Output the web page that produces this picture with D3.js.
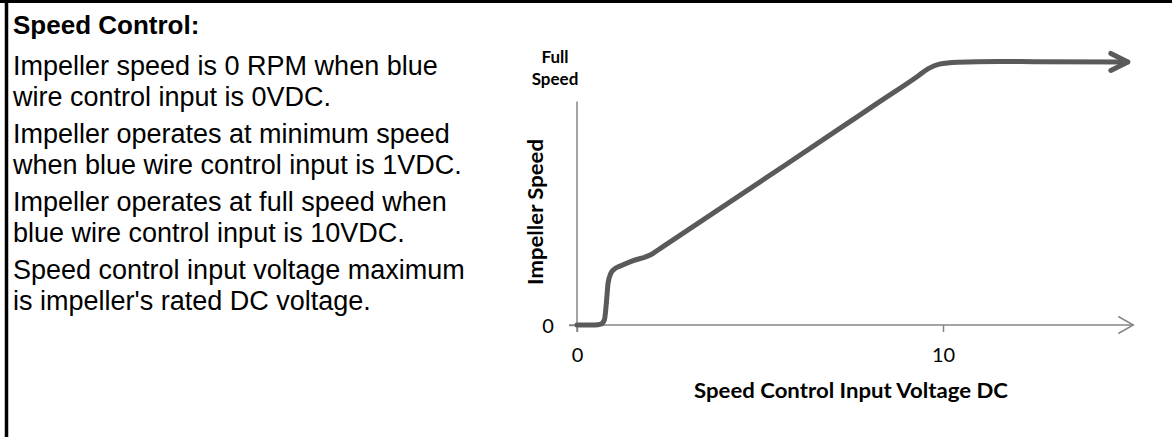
<!DOCTYPE html>
<html>
<head>
<meta charset="utf-8">
<script src="https://cdn.jsdelivr.net/npm/d3@7"></script>
<style>
  html, body { margin: 0; padding: 0; background: #fff; }
  svg { display: block; }
</style>
</head>
<body>
<svg id="chart" width="1172" height="437"></svg>
<script>
// ---- data ----
const titleText = "Speed Control:";
const paragraphs = [
  ["Impeller speed is 0 RPM when blue", "wire control input is 0VDC."],
  ["Impeller operates at minimum speed", "when blue wire control input is 1VDC."],
  ["Impeller operates at full speed when", "blue wire control input is 10VDC."],
  ["Speed control input voltage maximum", "is impeller's rated DC voltage."]
];
const voltage = [0, 0.5, 0.65, 0.75, 0.8, 0.85, 0.92, 1.0, 1.2, 1.5, 2.0, 2.35, 7.1, 8.28, 9.3, 9.6, 9.9, 10.4, 11.5, 12.5, 15.05];
const speed   = [0, 0, 0.3, 2, 8, 16, 19.5, 21, 22.5, 24.3, 26.6, 29.8, 74.0, 85.0, 94.5, 97.5, 99.2, 99.9, 100.2, 100.1, 100];
const xTickValues = [0, 10];
const xTickLabels = ["0", "10"];
const yTickValues = [0];
const yTickLabels = ["0"];
const yTopLabel = ["Full", "Speed"];
const xAxisTitle = "Speed Control Input Voltage DC";
const yAxisTitle = "Impeller Speed";
const xAxisEnd = 15.2;
const yAxisTop = 85;

const svg = d3.select("#chart");

// border (top & left)
svg.append("line").attr("x1", 0).attr("x2", 1172).attr("y1", 1.5).attr("y2", 1.5)
  .attr("stroke", "#000").attr("stroke-width", 3);
svg.append("line").attr("x1", 6.5).attr("x2", 6.5).attr("y1", 0).attr("y2", 437)
  .attr("stroke", "#000").attr("stroke-width", 3.5);

// left text
const txt = svg.append("g").attr("font-family", "'Liberation Sans', Arial, sans-serif").attr("fill", "#000");
txt.append("text").attr("x", 13).attr("y", 34).attr("font-size", 26).attr("font-weight", "bold").text(titleText);
let yPos = 75;
paragraphs.forEach((p) => {
  p.forEach((line, j) => {
    txt.append("text").attr("x", 13).attr("y", yPos).attr("font-size", 27).text(line);
    yPos += (j === p.length - 1) ? 37 : 31;
  });
});

// scales
const x = d3.scaleLinear().domain([0, 10]).range([577, 943]);
const y = d3.scaleLinear().domain([0, 100]).range([325, 62]);

const axisColor = "#868686";
const chartFont = "Lato, 'Open Sans', sans-serif";

// markers
const defs = svg.append("defs");
defs.append("marker").attr("id", "axArrow").attr("viewBox", "-16 -10 18 20")
  .attr("refX", 0).attr("refY", 0).attr("markerWidth", 18).attr("markerHeight", 20)
  .attr("markerUnits", "userSpaceOnUse").attr("orient", "auto")
  .append("path").attr("d", "M-15,-8.5 L0,0 L-15,8.5").attr("fill", "none")
  .attr("stroke", axisColor).attr("stroke-width", 1.5);
defs.append("marker").attr("id", "curveArrow").attr("viewBox", "-22 -12 26 24")
  .attr("refX", 0).attr("refY", 0).attr("markerWidth", 26).attr("markerHeight", 24)
  .attr("markerUnits", "userSpaceOnUse").attr("orient", "auto")
  .append("path").attr("d", "M-17,-8.5 L0,0 L-17,8.5").attr("fill", "none")
  .attr("stroke", "#5a5a5a").attr("stroke-width", 5).attr("stroke-linecap", "round").attr("stroke-linejoin", "round");

// x axis
const xAxis = d3.axisBottom(x).tickValues(xTickValues).tickFormat((d, i) => xTickLabels[i]).tickSize(7).tickSizeOuter(0);
const gx = svg.append("g").attr("transform", `translate(0,${y(0)})`).call(xAxis);
gx.select(".domain").remove();
gx.selectAll(".tick line").attr("stroke", axisColor).attr("stroke-width", 1.5);
gx.selectAll(".tick text").attr("font-family", chartFont).attr("font-size", 20).attr("fill", "#000")
  .attr("y", 37).attr("dy", null);
svg.append("line").attr("x1", x(0) - 8).attr("x2", x(xAxisEnd)).attr("y1", y(0)).attr("y2", y(0))
  .attr("stroke", axisColor).attr("stroke-width", 1.5).attr("marker-end", "url(#axArrow)");

// y axis
const yAxis = d3.axisLeft(y).tickValues(yTickValues).tickFormat((d, i) => yTickLabels[i]).tickSize(8).tickSizeOuter(0);
const gy = svg.append("g").attr("transform", `translate(${x(0)},0)`).call(yAxis);
gy.select(".domain").remove();
gy.selectAll(".tick line").attr("stroke", axisColor).attr("stroke-width", 1.5);
gy.selectAll(".tick text").attr("font-family", chartFont).attr("font-size", 20).attr("fill", "#000")
  .attr("x", -29).attr("dy", "0.36em").attr("text-anchor", "middle");
svg.append("line").attr("x1", x(0)).attr("x2", x(0)).attr("y1", y(yAxisTop)).attr("y2", y(0) + 7)
  .attr("stroke", axisColor).attr("stroke-width", 1.5);

// Full Speed label
const fs = svg.append("text").attr("font-family", chartFont).attr("font-size", 17).attr("font-weight", "bold")
  .attr("text-anchor", "middle").attr("fill", "#000");
yTopLabel.forEach((t, i) => fs.append("tspan").attr("x", x(0) - 22).attr("y", 63 + i * 22).text(t));

// axis titles
svg.append("text").attr("font-family", chartFont).attr("font-size", 20).attr("font-weight", "bold")
  .attr("text-anchor", "middle").attr("x", 851).attr("y", 398)
  .attr("textLength", 314).attr("lengthAdjust", "spacingAndGlyphs").text(xAxisTitle);
svg.append("text").attr("font-family", chartFont).attr("font-size", 20).attr("font-weight", "bold")
  .attr("text-anchor", "middle").attr("transform", "translate(543,212) rotate(-90)")
  .attr("textLength", 146).attr("lengthAdjust", "spacingAndGlyphs").text(yAxisTitle);

// curve
const pts = voltage.map((v, i) => [v, speed[i]]);
const line = d3.line().x(d => x(d[0])).y(d => y(d[1])).curve(d3.curveMonotoneX);
svg.append("path").attr("d", line(pts)).attr("fill", "none").attr("stroke", "#5a5a5a")
  .attr("stroke-width", 5).attr("stroke-linecap", "round").attr("stroke-linejoin", "round")
  .attr("marker-end", "url(#curveArrow)");
</script>
</body>
</html>
